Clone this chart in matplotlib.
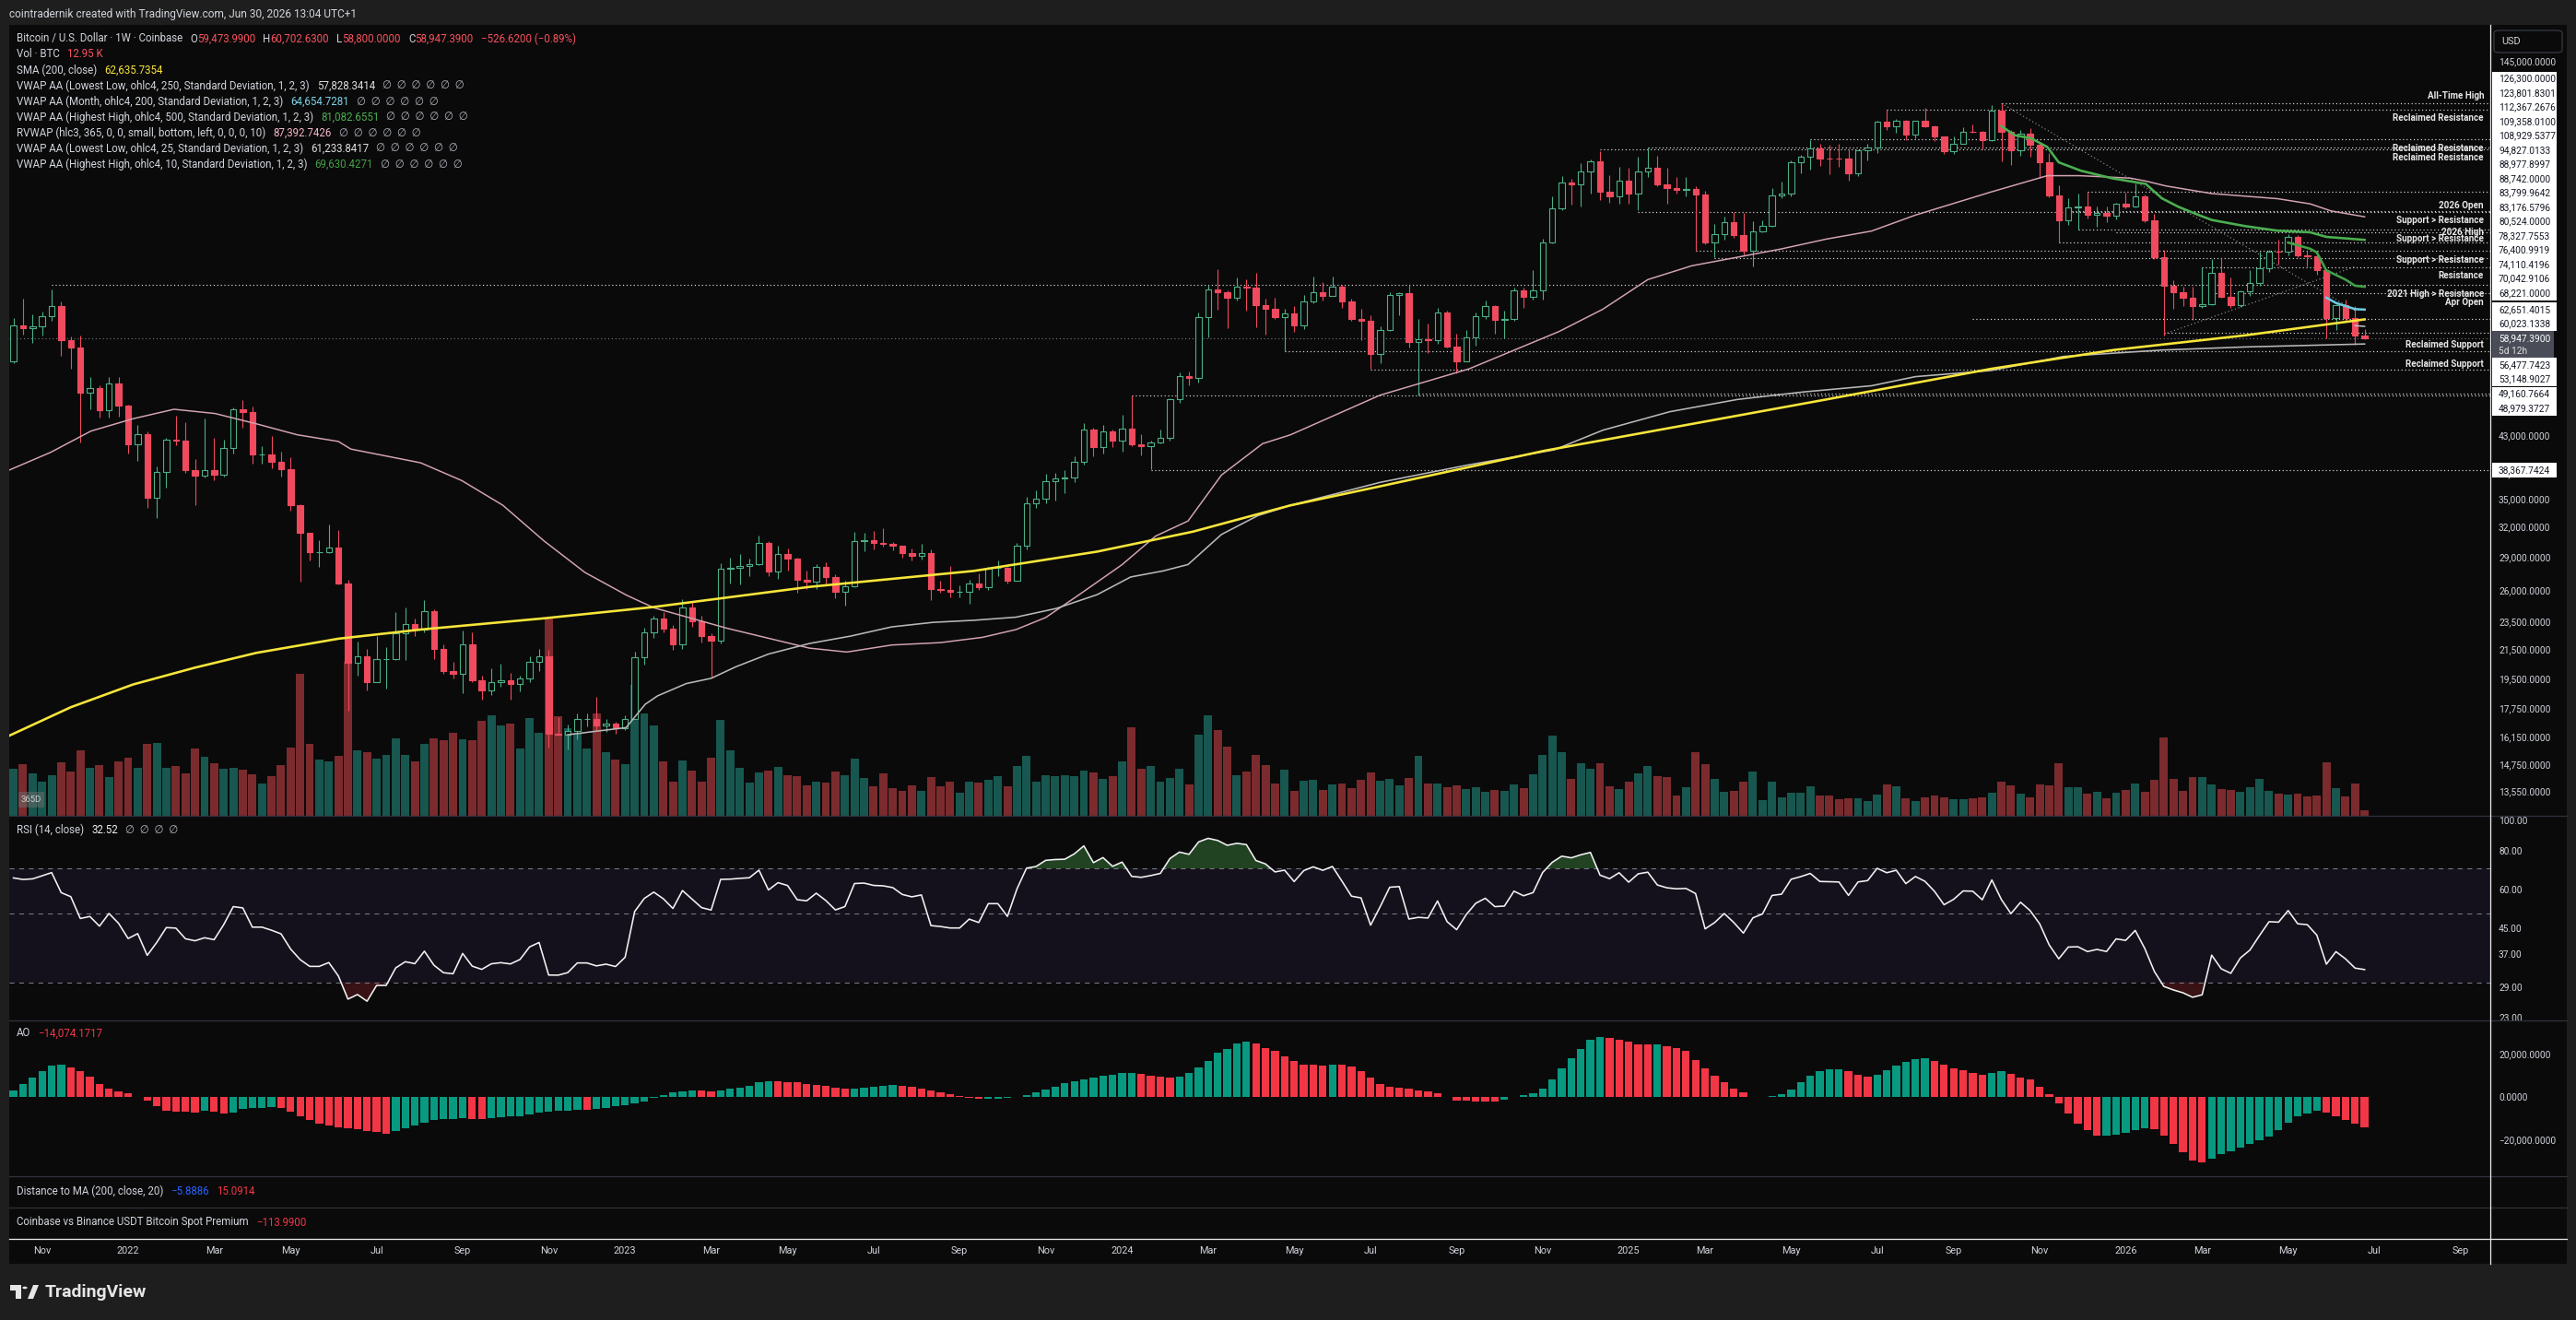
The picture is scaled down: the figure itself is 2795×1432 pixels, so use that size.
import numpy as np
import pandas as pd
import matplotlib
matplotlib.use("Agg")
import matplotlib.pyplot as plt
from matplotlib.patches import Rectangle, Circle, Polygon, FancyBboxPatch
from matplotlib.lines import Line2D
from matplotlib.collections import LineCollection, PatchCollection
from matplotlib.ticker import NullLocator

plt.rcParams['font.family'] = ['Roboto', 'DejaVu Sans']

W, H, DPI = 2795, 1432, 100

# ---------------------------------------------------------------- data
start_date = "2021-10-11"          # first weekly bar shown

# weeks before the first shown bar (only used to warm up RSI / AO)
warmup_closes = [45200, 51200, 59000, 57400, 55800, 58200, 59800, 56200, 49100, 56600,
                 58300, 46400, 34700, 35700, 35800, 39100, 35500, 34700, 35300, 34200,
                 31800, 35400, 39900, 43800, 47000, 49300, 48800, 51800, 46000, 47300,
                 43200, 48200, 54700]
warmup_hl2 = [51200, 48800, 55400, 57000, 54400, 57000, 58300, 58000, 52200, 55100,
              56200, 51200, 38300, 37100, 37200, 35500, 38000, 32400, 34600, 33600,
              32800, 31900, 38700, 40400, 45500, 46700, 48300, 49600, 48000, 46400,
              43500, 44600, 51700]

highs = [62900, 67000, 63700, 64300, 69000, 66300, 59300, 59400, 51900, 50600,
         51900, 52000, 47500, 44400, 43500, 38900, 42600, 45800, 44800, 39800,
         45400, 42600, 42400, 47000, 48200, 47200, 41500, 42900, 40800, 40000,
         34400, 31000, 30600, 32200, 31600, 26900, 22000, 21500, 22400, 21600,
         24200, 24600, 23700, 25200, 24400, 21800, 20600, 22800, 22700, 19700,
         20200, 20500, 19900, 19700, 21000, 21500, 21400, 17200, 16800, 17400,
         17400, 18400, 17100, 16950, 17300, 21300, 23000, 23900, 24250, 23200,
         25250, 25100, 23900, 22600, 28400, 28900, 29200, 28800, 31000, 30500,
         30000, 29800, 28900, 27700, 28300, 28450, 27400, 26800, 31400, 31300,
         31500, 31800, 30400, 29900, 29750, 30200, 29700, 26800, 28150, 26400,
         26900, 27450, 28050, 28600, 28000, 30300, 35200, 35950, 37950, 38000,
         38450, 40200, 44700, 44000, 44400, 43800, 45900, 49000, 43200, 42250,
         43850, 48500, 52800, 52950, 64000, 70000, 73800, 68900, 71700, 71300,
         72800, 66900, 67200, 64800, 65500, 67700, 71950, 70600, 71950, 70000,
         67000, 64900, 63500, 61300, 68400, 68500, 70000, 62700, 61800, 65000,
         64500, 59800, 60600, 64100, 66500, 65550, 64500, 69500, 69500, 73600,
         81500, 93500, 99600, 98900, 104000, 105200, 108300, 99900, 102700, 102500,
         106300, 109400, 106500, 102500, 99500, 99500, 96500, 95000, 85300, 87500,
         88800, 88500, 86100, 86500, 95800, 97900, 104900, 106700, 112000, 110700,
         110400, 110600, 108900, 108500, 110600, 119500, 123800, 120250, 119800, 119500,
         124450, 117600, 113500, 113400, 116800, 117900, 115400, 125700, 126300, 116000,
         116000, 116400, 111200, 107500, 96700, 92800, 94100, 94800, 90300, 90500,
         91500, 94400, 97500, 93900, 88200, 78550, 71100, 69700, 69700, 74110,
         76100, 76400, 71700, 68900, 73400, 78100, 78600, 81100, 82600, 82300,
         78200, 78200, 73800, 65800, 66700, 65400, 60702.63]

lows = [54300, 59600, 58000, 59400, 62300, 55600, 53300, 42000, 46800, 45500,
        45500, 45700, 40500, 39600, 34000, 32900, 36300, 41600, 38000, 34300,
        37500, 37200, 37600, 40500, 44000, 39200, 39200, 38600, 37600, 33700,
        26700, 28600, 28000, 29300, 26500, 17600, 19700, 18800, 19300, 18900,
        20700, 20700, 22400, 22700, 20800, 19800, 19500, 18600, 19300, 18200,
        18500, 19000, 18200, 18700, 19300, 20000, 15600, 16200, 15500, 16000,
        16700, 16500, 16400, 16300, 16500, 17100, 20400, 22300, 22700, 21400,
        21500, 23100, 21950, 19600, 21900, 26600, 26500, 27200, 28200, 27200,
        26950, 27700, 25800, 26100, 26100, 26500, 25350, 24750, 26250, 29500,
        29700, 29950, 29600, 28900, 28600, 28700, 25200, 25800, 25400, 25400,
        24900, 26000, 26000, 27200, 26550, 26800, 29700, 33950, 34500, 34800,
        35650, 36900, 39100, 40200, 40550, 41400, 40750, 41500, 40300, 38500,
        41900, 42300, 47700, 50600, 50950, 59000, 64600, 60800, 66600, 64500,
        61000, 59600, 62800, 56500, 60200, 60700, 66000, 66600, 67600, 65100,
        62300, 58500, 53400, 54300, 60400, 63500, 57200, 49000, 56100, 57900,
        57200, 52500, 54600, 57500, 62700, 59800, 58900, 62400, 65100, 66800,
        66800, 80200, 89400, 90800, 90500, 94200, 92200, 91500, 91300, 91200,
        89250, 99500, 96500, 91200, 94100, 93400, 78200, 80000, 76600, 81200,
        81600, 77200, 74400, 83100, 84600, 92800, 93400, 100700, 102000, 103100,
        100400, 102700, 98200, 99600, 105100, 107500, 115700, 114700, 112000, 112600,
        116800, 111700, 107300, 107200, 110600, 114700, 108700, 111700, 104500, 103500,
        106600, 106300, 99100, 93000, 80524, 85100, 83800, 87000, 84500, 86000,
        86600, 89900, 90000, 86000, 76100, 59500, 64800, 65400, 62600, 65100,
        65600, 67200, 65100, 65200, 67600, 69900, 73000, 74900, 77000, 76700,
        74300, 72500, 58900, 60600, 62400, 57760, 58800]

closes = [61500, 60900, 61300, 63300, 65500, 58600, 57200, 49400, 50100, 46700,
          50800, 47300, 41800, 43100, 35100, 38200, 42400, 42200, 38400, 37700,
          38400, 37800, 41300, 46800, 46400, 40400, 40400, 39500, 38500, 34300,
          31300, 29400, 29400, 29900, 26600, 20550, 21000, 19300, 20800, 20800,
          22600, 23300, 22900, 24300, 21500, 20000, 19800, 21800, 19400, 18800,
          19300, 19400, 19200, 19550, 20600, 21000, 16300, 16280, 16450, 17100,
          17100, 16750, 16850, 16600, 17100, 20900, 22700, 23750, 22950, 21800,
          24600, 23500, 22400, 22100, 27900, 27950, 28150, 28300, 30300, 27600,
          29250, 28850, 26900, 26750, 28050, 27100, 25900, 26350, 30500, 30600,
          30300, 30250, 30050, 29300, 29050, 29300, 26100, 26000, 25850, 25850,
          26550, 26250, 27950, 27950, 26850, 30000, 34500, 35000, 37050, 37350,
          37450, 39500, 43800, 41350, 43600, 42250, 43950, 41700, 41550, 42050,
          42650, 48300, 52150, 51750, 63100, 68950, 68400, 67200, 69700, 69400,
          65700, 64900, 63100, 63950, 61500, 66300, 68400, 67600, 69600, 66300,
          62800, 62400, 55900, 60600, 67900, 68200, 58200, 58700, 58500, 64000,
          57300, 54600, 59100, 63300, 65400, 62600, 62800, 68900, 67400, 68750,
          80400, 89900, 97700, 97000, 101100, 104500, 94850, 93300, 98300, 94250,
          101100, 102600, 97100, 95900, 95500, 95700, 93900, 80400, 82600, 86000,
          82400, 78200, 83400, 84900, 93600, 94300, 104200, 106300, 109000, 105700,
          105600, 105500, 100700, 108400, 109300, 119100, 117300, 119400, 114200, 119300,
          117400, 113500, 108250, 110800, 115200, 115100, 112000, 123500, 115000, 108600,
          114400, 110500, 104300, 93800, 86500, 90200, 90300, 88000, 88600, 87700,
          91100, 90500, 93300, 86300, 76700, 69950, 68400, 67200, 65400, 65750,
          72850, 67400, 65600, 68650, 70400, 74000, 78150, 78000, 81900, 77200,
          76900, 73400, 62900, 65600, 62900, 59473.99, 58947.39]

volume_k = [102, 112, 92, 74, 88, 116, 96, 142, 104, 110,
            84, 118, 126, 104, 156, 158, 104, 108, 92, 146,
            128, 114, 102, 104, 100, 90, 70, 86, 110, 148,
            308, 156, 122, 118, 130, 334, 142, 138, 124, 132,
            168, 132, 118, 156, 168, 164, 180, 166, 164, 206,
            218, 196, 200, 146, 212, 180, 428, 216, 190, 180,
            146, 222, 138, 122, 112, 284, 222, 196, 118, 74,
            120, 98, 74, 126, 208, 142, 104, 72, 94, 98,
            106, 88, 86, 66, 74, 72, 96, 88, 124, 82,
            64, 92, 60, 54, 66, 54, 84, 64, 74, 50,
            74, 72, 78, 86, 64, 108, 130, 74, 88, 86,
            88, 86, 98, 94, 80, 86, 118, 192, 102, 108,
            74, 82, 102, 68, 176, 218, 186, 150, 88, 96,
            132, 110, 70, 100, 54, 76, 78, 56, 68, 70,
            60, 78, 94, 76, 80, 66, 82, 130, 70, 70,
            62, 66, 58, 62, 52, 56, 54, 68, 60, 90,
            132, 174, 138, 80, 114, 102, 114, 64, 58, 74,
            92, 108, 86, 84, 44, 62, 138, 112, 80, 52,
            54, 74, 96, 34, 74, 40, 50, 50, 64, 44,
            44, 36, 38, 38, 32, 46, 68, 64, 38, 32,
            40, 44, 40, 36, 36, 38, 40, 50, 74, 66,
            48, 40, 68, 66, 114, 62, 62, 48, 52, 38,
            50, 56, 70, 52, 78, 170, 80, 54, 84, 84,
            68, 58, 56, 52, 62, 80, 54, 48, 46, 48,
            42, 44, 116, 60, 42, 70, 12.95]

# indicator lines: (week index, value)
sma200_week = [-0.4, 6, 12.5, 19, 25.4, 34, 42.6, 55.5, 67, 83.3, 100.5, 113.4, 123.4,
               133.6, 143, 160.2, 175.6, 189.7, 206.9, 219.7, 233.5, 246]
sma200_val = [16220, 17780, 19140, 20220, 21210, 22210, 22880, 23730, 24620, 26280, 27680,
              29470, 31440, 34240, 36430, 40890, 44600, 48300, 53340, 56700, 59470, 62636]

rvwap_week = [-0.4, 3.9, 8.1, 12.5, 16.8, 21.1, 25.4, 29.7, 34, 35.3, 42.6, 46.9, 51.2,
              55.5, 59.8, 64.2, 67, 74.7, 83.3, 87.2, 91.9, 97, 101.4, 104.9, 108, 111.3,
              116, 119.5, 122.9, 126.4, 130.7, 133.6, 143, 152.3, 161.7, 166.3, 171,
              175.6, 180.4, 185, 189.7, 194.4, 199, 206.9, 212.8, 216.2, 221.5, 223.2,
              225.2, 230, 236.9, 240.3, 242.5, 246]
rvwap_val = [38420, 40680, 43580, 45360, 46780, 46140, 44630, 43060, 42140, 41110, 39320,
             37120, 34260, 30520, 27540, 25560, 24560, 22970, 21540, 21270, 21760, 21930,
             22310, 22880, 23790, 25510, 28250, 30990, 32550, 37790, 41840, 43050, 48980,
             53340, 60200, 64740, 71270, 74540, 76650, 78750, 81300, 83430, 87870, 94710,
             99870, 99870, 99080, 98070, 96600, 94240, 92680, 91140, 89060, 87392]

vwap_ll250_week = [58, 61, 64.1, 66.1, 67.4, 70.4, 73, 75.6, 79, 83.3, 87.6, 91.9, 96.2,
                   100.5, 104.9, 109.1, 113.4, 116.9, 120.3, 122.9, 126.4, 130.2, 133.6,
                   143, 152, 161.2, 166.3, 173.3, 180.4, 187.3, 194.4, 199, 206.9, 214.5,
                   224.8, 233.5, 246]
vwap_ll250_val = [16260, 16450, 16640, 17950, 18450, 19200, 19530, 20280, 21130, 21870,
                  22400, 23080, 23420, 23580, 23820, 24500, 25630, 27140, 27680, 28260,
                  31160, 33120, 34240, 36900, 39000, 41000, 43710, 46410, 48300, 49490,
                  50490, 52010, 53050, 55540, 56700, 57270, 57828]

vwap_hh500_week = [208, 209.4, 211.1, 212.8, 214, 216.3, 219.6, 223.1, 224.8, 226.5,
                   228.3, 230, 233.5, 236.9, 240.3, 242, 246]
vwap_hh500_val = [117300, 113880, 112750, 109640, 104290, 101510, 99010, 97240, 92770,
                  90300, 88250, 86500, 84790, 83530, 83110, 81870, 81083]

vwap_hh10_week = [238, 240.3, 241, 242, 243, 244, 245, 246]
vwap_hh10_val = [80370, 78780, 77850, 73440, 72350, 71270, 69870, 69630]

vwap_month_week = [242, 243, 244, 245, 246]
vwap_month_val = [67210, 66070, 65410, 64760, 64655]

vwap_ll25_week = [245, 246]
vwap_ll25_val = [61380, 61234]

# horizontal levels (price, first week index)
level_prices = [126300.0, 123801.8301, 112367.2676, 109358.01, 108929.5377, 94827.0133,
                88977.8997, 88742.0, 83799.9642, 83176.5796, 80524.0, 78327.7553,
                76400.9919, 74110.4196, 70042.9106, 68221.0, 62651.4015, 60023.1338,
                56477.7423, 53148.9027, 49160.7664, 48979.3727, 38367.7424]
level_start = [208, 196, 188, 171, 166, 217, 215, 170, 216, 220, 214, 176, 178, 229, 4,
               230, 205, 225, 133, 142, 147, 117, 119]
current_price = 58947.39
current_countdown = "5d 12h"

level_text = ["All-Time High", "Reclaimed Resistance", "Reclaimed Resistance",
              "Reclaimed Resistance", "2026 Open", "Support > Resistance", "2026 High",
              "Support > Resistance", "Support > Resistance", "Resistance",
              "2021 High > Resistance", "Apr Open", "Reclaimed Support", "Reclaimed Support"]
level_text_price = [129300, 120600, 109090, 106000, 90700, 86380, 83170, 81370, 76070,
                    72170, 68100, 66230, 57710, 54130]

trend_week = [(208, 245), (225, 245)]
trend_val = [(126300, 64450), (59700, 74330)]

price_ticks = [145000, 43000, 38000, 35000, 32000, 29000, 26000, 23500, 21500, 19500,
               17750, 16150, 14750, 13550]
rsi_ticks = [100, 80, 60, 45, 37, 29, 23]
ao_ticks = [20000, 0, -20000]

# ---------------------------------------------------------------- derived
n = len(closes)
xs = np.arange(n)
opens = [warmup_closes[-1]] + closes[:-1]

allc = np.array(warmup_closes + closes, float)
d = np.diff(allc)
gain = np.clip(d, 0, None)
loss = np.clip(-d, 0, None)
P = 14
ag, al = gain[:P].mean(), loss[:P].mean()
rsi_all = np.full(len(allc), np.nan)
rsi_all[P] = 100 - 100 / (1 + ag / al)
for k in range(P, len(d)):
    ag = (ag * (P - 1) + gain[k]) / P
    al = (al * (P - 1) + loss[k]) / P
    rsi_all[k + 1] = 100 - 100 / (1 + ag / al) if al > 0 else 100
rsi = rsi_all[len(warmup_closes):]

med = pd.Series(warmup_hl2 + [(h + l) / 2 for h, l in zip(highs, lows)], dtype=float)
ao_all = (med.rolling(5).mean() - med.rolling(34).mean()).values
ao = ao_all[len(warmup_hl2):]
ao_prev = ao_all[len(warmup_hl2) - 1:-1]

# ---------------------------------------------------------------- style
BG = '#0a0a0a'
OUTER = '#1e1e1e'
TXT = '#d1d4dc'
UP = '#4caf86'
DN = '#ef4a5e'
VUP = '#17574f'
VDN = '#7b2b2e'
RED_T = '#f7525f'
SEP = '#2f323c'
LEG = 8.3

XL, XR = -0.44, 259.15
PX = 0.72  # points per pixel at 100 dpi


def fx(px):
    return px / W


def fy(py):
    return 1 - py / H


fig = plt.figure(figsize=(W / DPI, H / DPI), dpi=DPI, facecolor=OUTER)
fig.add_artist(Rectangle((fx(10), fy(1371)), (2785 - 10) / W, (1371 - 27) / H,
                         transform=fig.transFigure, facecolor=BG, edgecolor='none', zorder=-10))


def make_ax(top, bottom, name):
    a = fig.add_axes([fx(10), fy(bottom), (2702 - 10) / W, (bottom - top) / H], label=name)
    a.set_facecolor('none')
    for s in a.spines.values():
        s.set_visible(False)
    a.set_xlim(XL, XR)
    a.tick_params(axis='x', which='both', bottom=False, labelbottom=False, top=False)
    a.tick_params(axis='y', which='both', left=False, labelleft=False, right=False,
                  labelright=False)
    return a


ax_vol = make_ax(27, 885, 'vol')
ax = make_ax(27, 885, 'price')
ax_rsi = make_ax(885, 1107, 'rsi')
ax_ao = make_ax(1107, 1276, 'ao')
ax_dist = make_ax(1276, 1310, 'dist')
ax_prem = make_ax(1310, 1344, 'prem')

# ---- volume
up_mask = np.array(closes) >= np.array(opens)
ax_vol.bar(xs, volume_k, width=0.86, color=np.where(up_mask, VUP, VDN), linewidth=0)
ax_vol.set_ylim(0, 858 * 2)
ax_vol.set_yticks([])

# ---- price axes
ax.set_yscale('log')
ax.set_ylim(12499, 162950)
ax.set_yticks(price_ticks)
ax.set_yticklabels([f"{v:,.4f}" for v in price_ticks])
ax.yaxis.set_minor_locator(NullLocator())
ax.yaxis.tick_right()
ax.tick_params(axis='y', which='both', left=False, labelleft=False, right=True,
               labelright=True, length=0, pad=6.5, labelsize=7.3, labelcolor=TXT)
ax.tick_params(axis='x', which='both', bottom=False, labelbottom=False)

# candles
bodies, wicks, wcols = [], [], []
for i in range(n):
    o, h, l, c = opens[i], highs[i], lows[i], closes[i]
    up = c >= o
    lo_b, hi_b = min(o, c), max(o, c)
    col = UP if up else DN
    bodies.append(Rectangle((i - 0.31, lo_b), 0.62, max(hi_b - lo_b, lo_b * 0.0008),
                            facecolor=BG if up else DN, edgecolor=col, linewidth=0.8))
    wicks.append([(i, h), (i, hi_b)])
    wicks.append([(i, lo_b), (i, l)])
    wcols += [col, col]
ax.add_collection(LineCollection(wicks, colors=wcols, linewidths=0.8, zorder=3))
ax.add_collection(PatchCollection(bodies, match_original=True, zorder=4))

# levels
for p, s in zip(level_prices, level_start):
    ax.plot([s, XR], [p, p], color='#dedede', lw=0.85, ls=(0, (1, 2.3)), zorder=2)
ax.axhline(current_price, color='#7c7c7c', lw=0.8, ls=(0, (1, 2.5)), zorder=2)
for (x0, x1), (y0, y1) in zip(trend_week, trend_val):
    ax.plot([x0, x1], [y0, y1], color='#a0a0a0', lw=0.8, ls=(0, (1, 2.5)), zorder=2)

# indicator lines
ax.plot(rvwap_week, rvwap_val, color='#d3a3b2', lw=1.5 * PX, zorder=5)
ax.plot(vwap_ll250_week, vwap_ll250_val, color='#b8b8b8', lw=1.6 * PX, zorder=5)
ax.plot(sma200_week, sma200_val, color='#f7e53a', lw=2.6 * PX, zorder=6)
ax.plot(vwap_hh500_week, vwap_hh500_val, color='#4caf50', lw=2.6 * PX, zorder=6)
ax.plot(vwap_hh10_week, vwap_hh10_val, color='#43a047', lw=2.6 * PX, zorder=6)
ax.plot(vwap_month_week, vwap_month_val, color='#6ec9e0', lw=2.6 * PX, zorder=6)
ax.plot(vwap_ll25_week, vwap_ll25_val, color='#bdbdbd', lw=1.6 * PX, zorder=6)

for t, p in zip(level_text, level_text_price):
    ax.text((2695 - 10) / 2692, p, t, transform=ax.get_yaxis_transform(), ha='right',
            va='center', fontsize=7.1, fontweight='bold', color='#e8e8e8', zorder=7)

# ---- RSI
ax_rsi.set_yscale('log')
ax_rsi.set_ylim(22.6, 103.5)
ax_rsi.axhspan(30, 70, facecolor='#7e57c2', alpha=0.1, lw=0)
for lv in (70, 50, 30):
    ax_rsi.axhline(lv, color='#787b86', lw=0.75, ls=(0, (5, 5)))
ax_rsi.fill_between(xs, rsi, 70, where=rsi > 70, interpolate=True, color='#4caf50',
                    alpha=0.35, lw=0)
ax_rsi.fill_between(xs, rsi, 30, where=rsi < 30, interpolate=True, color='#f23645',
                    alpha=0.2, lw=0)
ax_rsi.plot(xs, rsi, color='#f2f2f2', lw=1.6 * PX)
ax_rsi.set_yticks(rsi_ticks)
ax_rsi.set_yticklabels([f"{v:.2f}" for v in rsi_ticks])
ax_rsi.yaxis.set_minor_locator(NullLocator())
ax_rsi.yaxis.tick_right()
ax_rsi.tick_params(axis='y', which='both', left=False, labelleft=False, right=True,
                   labelright=True, length=0, pad=6.5, labelsize=7.3, labelcolor=TXT)

# ---- AO
ao_cols = np.where(np.nan_to_num(ao - ao_prev, nan=1.0) >= 0, '#089981', '#f23645')
ax_ao.bar(xs, ao, width=0.8, color=ao_cols, linewidth=0)
ax_ao.set_ylim(-36990, 35700)
ax_ao.set_yticks(ao_ticks)
ax_ao.set_yticklabels([f"{v:,.4f}".replace('-', '\u2212') for v in ao_ticks])
ax_ao.yaxis.tick_right()
ax_ao.tick_params(axis='y', which='both', left=False, labelleft=False, right=True,
                  labelright=True, length=0, pad=6.5, labelsize=7.3, labelcolor=TXT)

# ---- x axis labels (first bar of every second month)
dates = pd.date_range(start_date, periods=270, freq='7D')
tick_pos, tick_lab = [], []
for i in range(1, len(dates)):
    if dates[i].month != dates[i - 1].month and dates[i].month % 2 == 1 and i <= XR:
        tick_pos.append(i)
        tick_lab.append(str(dates[i].year) if dates[i].month == 1 else dates[i].strftime('%b'))
ax_prem.set_xticks(tick_pos)
ax_prem.set_xticklabels(tick_lab)
ax_prem.tick_params(axis='x', bottom=True, labelbottom=True, length=0, pad=5.5,
                    labelsize=7.8, labelcolor=TXT)

# ---- frame lines
for yy in (885, 1107, 1276, 1310):
    fig.add_artist(Line2D([fx(10), fx(2785)], [fy(yy), fy(yy)], transform=fig.transFigure,
                          color=SEP, lw=1.3 * PX, zorder=5))
fig.add_artist(Line2D([fx(10), fx(2785)], [fy(1344), fy(1344)], transform=fig.transFigure,
                      color='#e8e8e8', lw=1.3 * PX, zorder=5))
fig.add_artist(Line2D([fx(2702), fx(2702)], [fy(27), fy(1371)], transform=fig.transFigure,
                      color='#e8e8e8', lw=1.3 * PX, zorder=5))

# ---- right price-axis labels (stacked around the live price)
def ytop(p):
    return H - ax.transData.transform((0, p))[1]


LH = 15.5
cur_c = ytop(current_price)
cur_top = cur_c - LH / 2
cur_bot = cur_top + 29
placed = []
prev = cur_top
for p in sorted([q for q in level_prices if q > current_price]):
    c = min(ytop(p), prev - LH / 2)
    placed.append((p, c))
    prev = c - LH / 2
prev = cur_bot
for p in sorted([q for q in level_prices if q < current_price], reverse=True):
    c = max(ytop(p), prev + LH / 2)
    placed.append((p, c))
    prev = c + LH / 2

for p, c in placed:
    fig.add_artist(Rectangle((fx(2704), fy(c + LH / 2)), 70 / W, LH / H,
                             transform=fig.transFigure, facecolor='#ffffff',
                             edgecolor='none', zorder=8))
    fig.text(fx(2711), fy(c), f"{p:,.4f}", fontsize=7.3, color='#131722', ha='left',
             va='center', zorder=9)
fig.add_artist(Rectangle((fx(2704), fy(cur_bot)), 67 / W, 29 / H, transform=fig.transFigure,
                         facecolor='#4a4d57', edgecolor='none', zorder=8))
fig.text(fx(2711), fy(cur_c), f"{current_price:,.4f}", fontsize=7.3, color='#ffffff',
         ha='left', va='center', zorder=9)
fig.text(fx(2711), fy(cur_c + 14), current_countdown, fontsize=7.3, color='#e0e0e0',
         ha='left', va='center', zorder=9)

# USD box
fig.add_artist(FancyBboxPatch((fx(2706), fy(57)), 74 / W, 24 / H,
                              boxstyle="round,pad=0,rounding_size=0.002",
                              transform=fig.transFigure, facecolor=BG, edgecolor='#434651',
                              lw=1.0 * PX, zorder=8))
fig.text(fx(2714), fy(45), "USD", fontsize=7.8, color=TXT, ha='left', va='center', zorder=9)

# ---- legends
renderer = fig.canvas.get_renderer()


def rich(x_px, y_px, parts, size=LEG):
    x = x_px
    for txt, col, gap in parts:
        t = fig.text(fx(x), fy(y_px), txt, color=col, fontsize=size, ha='left',
                     va='center', zorder=9)
        x += t.get_window_extent(renderer).width + gap


fig.text(fx(10), fy(15), "cointradernik created with TradingView.com, Jun 30, 2026 13:04 UTC+1",
         fontsize=8.6, color=TXT, ha='left', va='center')

NA = "\u2205  \u2205  \u2205  \u2205  \u2205  \u2205"
NAC = '#b2b5be'
rich(18, 42, [("Bitcoin / U.S. Dollar \u00b7 1W \u00b7 Coinbase", TXT, 8),
              ("O", TXT, 0), ("59,473.9900", RED_T, 8), ("H", TXT, 0), ("60,702.6300", RED_T, 8),
              ("L", TXT, 0), ("58,800.0000", RED_T, 8), ("C", TXT, 0), ("58,947.3900", RED_T, 8),
              ("\u2212526.6200 (\u22120.89%)", RED_T, 0)])
rich(18, 59, [("Vol \u00b7 BTC", TXT, 8), ("12.95 K", RED_T, 0)])
rich(18, 76, [("SMA (200, close)", TXT, 8), ("62,635.7354", '#f7e53a', 0)])
legend_rows = [
    ("VWAP AA (Lowest Low, ohlc4, 250, Standard Deviation, 1, 2, 3)", "57,828.3414", '#e0e0e0'),
    ("VWAP AA (Month, ohlc4, 200, Standard Deviation, 1, 2, 3)", "64,654.7281", '#7fd3e6'),
    ("VWAP AA (Highest High, ohlc4, 500, Standard Deviation, 1, 2, 3)", "81,082.6551", '#4caf50'),
    ("RVWAP (hlc3, 365, 0, 0, small, bottom, left, 0, 0, 0, 10)", "87,392.7426", '#f4b7c8'),
    ("VWAP AA (Lowest Low, ohlc4, 25, Standard Deviation, 1, 2, 3)", "61,233.8417", '#e0e0e0'),
    ("VWAP AA (Highest High, ohlc4, 10, Standard Deviation, 1, 2, 3)", "69,630.4271", '#43a047'),
]
for k, (name, val, col) in enumerate(legend_rows):
    rich(18, 93 + 17 * k, [(name, TXT, 8), (val, col, 8), (NA, NAC, 0)])

rich(18, 900, [("RSI (14, close)", TXT, 8), ("32.52", '#f2f2f2', 8),
               ("\u2205  \u2205  \u2205  \u2205", NAC, 0)])
rich(18, 1121, [("AO", TXT, 8), ("\u221214,074.1717", '#f23645', 0)])
rich(18, 1292, [("Distance to MA (200, close, 20)", TXT, 8), ("\u22125.8886", '#2962ff', 8),
                ("15.0914", '#f23645', 0)])
rich(18, 1326, [("Coinbase vs Binance USDT Bitcoin Spot Premium", TXT, 8),
                ("\u2212113.9900", '#f23645', 0)])

# 365D badge
fig.add_artist(Rectangle((fx(20), fy(876)), 28 / W, 17 / H, transform=fig.transFigure,
                         facecolor='#6b6b6b', alpha=0.55, edgecolor='none', zorder=8))
fig.text(fx(34), fy(867.5), "365D", fontsize=6.8, color='#cfcfcf', ha='center', va='center',
         zorder=9)

# ---- footer logo
LOGO = '#e6e6e6'
fig.add_artist(Polygon([(fx(11), fy(1394)), (fx(23), fy(1394)), (fx(23), fy(1409)),
                        (fx(17), fy(1409)), (fx(17), fy(1400)), (fx(11), fy(1400))],
                       closed=True, transform=fig.transFigure, facecolor=LOGO,
                       edgecolor='none', zorder=9))
fig.add_artist(Circle((fx(27), fy(1397)), 2.6 / W, transform=fig.transFigure,
                      facecolor=LOGO, edgecolor='none', zorder=9))
fig.add_artist(Polygon([(fx(30), fy(1409)), (fx(36), fy(1394)), (fx(42), fy(1394)),
                        (fx(36), fy(1409))], closed=True, transform=fig.transFigure,
                       facecolor=LOGO, edgecolor='none', zorder=9))
fig.text(fx(49), fy(1402), "TradingView", fontsize=14, fontweight='bold', color=LOGO,
         ha='left', va='center', zorder=9)

fig.savefig("out.png", dpi=DPI, facecolor=fig.get_facecolor())
